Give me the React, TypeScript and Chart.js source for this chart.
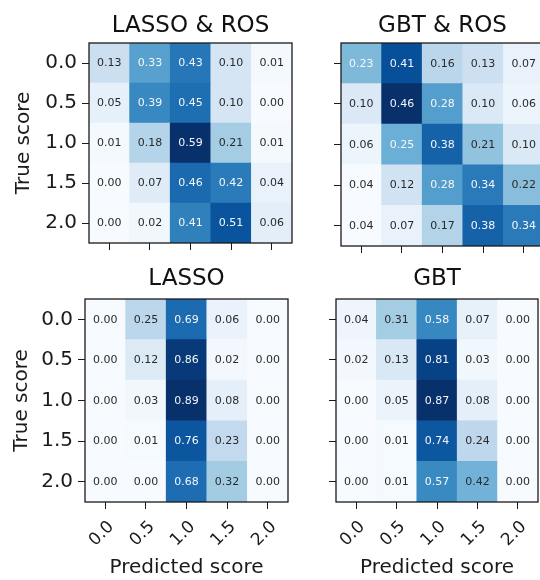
import React, { useEffect, useRef } from "react";
import { Chart, registerables } from "chart.js";
Chart.register(...registerables);

const predictedLabels = ["0.0", "0.5", "1.0", "1.5", "2.0"];
const trueLabels = ["0.0", "0.5", "1.0", "1.5", "2.0"];

const lassoRos = [
  [0.13, 0.33, 0.43, 0.1, 0.01],
  [0.05, 0.39, 0.45, 0.1, 0.0],
  [0.01, 0.18, 0.59, 0.21, 0.01],
  [0.0, 0.07, 0.46, 0.42, 0.04],
  [0.0, 0.02, 0.41, 0.51, 0.06],
];
const gbtRos = [
  [0.23, 0.41, 0.16, 0.13, 0.07],
  [0.1, 0.46, 0.28, 0.1, 0.06],
  [0.06, 0.25, 0.38, 0.21, 0.1],
  [0.04, 0.12, 0.28, 0.34, 0.22],
  [0.04, 0.07, 0.17, 0.38, 0.34],
];
const lasso = [
  [0.0, 0.25, 0.69, 0.06, 0.0],
  [0.0, 0.12, 0.86, 0.02, 0.0],
  [0.0, 0.03, 0.89, 0.08, 0.0],
  [0.0, 0.01, 0.76, 0.23, 0.0],
  [0.0, 0.0, 0.68, 0.32, 0.0],
];
const gbt = [
  [0.04, 0.31, 0.58, 0.07, 0.0],
  [0.02, 0.13, 0.81, 0.03, 0.0],
  [0.0, 0.05, 0.87, 0.08, 0.0],
  [0.0, 0.01, 0.74, 0.24, 0.0],
  [0.0, 0.01, 0.57, 0.42, 0.0],
];

const BLUES = ["#f7fbff", "#deebf7", "#c6dbef", "#9ecae1", "#6baed6", "#4292c6", "#2171b5", "#08519c", "#08306b"];
const FONT = "DejaVu Sans";

function hexToRgb(h: string) {
  return [parseInt(h.slice(1, 3), 16), parseInt(h.slice(3, 5), 16), parseInt(h.slice(5, 7), 16)];
}
function blues(t: number) {
  const tt = Math.max(0, Math.min(1, t)) * (BLUES.length - 1);
  const i = Math.min(BLUES.length - 2, Math.floor(tt));
  const f = tt - i;
  const a = hexToRgb(BLUES[i]);
  const b = hexToRgb(BLUES[i + 1]);
  const c = a.map((v, k) => Math.round(v + (b[k] - v) * f));
  return `rgb(${c[0]},${c[1]},${c[2]})`;
}

type PanelProps = {
  title: string;
  matrix: number[][];
  showX: boolean;
  showY: boolean;
  left: number;
  top: number;
  w: number;
  h: number;
  areaLeft: number;
  areaRight: number;
  areaTop: number;
  areaBottom: number;
  titleBaseline: number;
  yTitlePad: number;
};

function Panel(p: PanelProps) {
  const ref = useRef<HTMLCanvasElement | null>(null);
  useEffect(() => {
    if (!ref.current) return;
    const flat = p.matrix.flat();
    const max = Math.max(...flat);
    const min = Math.min(...flat);
    const rowsBottomFirst = trueLabels.map((_, i) => trueLabels.length - 1 - i);
    const datasets = rowsBottomFirst.map((r) => ({
      label: trueLabels[r],
      rowIndex: r,
      data: predictedLabels.map(() => 1),
      backgroundColor: p.matrix[r].map((v) => blues((v - min) / (max - min))),
      borderWidth: 0,
      barPercentage: 1,
      categoryPercentage: 1,
    }));
    const overlay = {
      id: "overlay",
      afterDatasetsDraw(chart: any) {
        const ctx = chart.ctx;
        ctx.save();
        ctx.font = `11px "${FONT}"`;
        ctx.textAlign = "center";
        ctx.textBaseline = "middle";
        chart.data.datasets.forEach((ds: any, di: number) => {
          const meta = chart.getDatasetMeta(di);
          meta.data.forEach((el: any, j: number) => {
            const v = p.matrix[ds.rowIndex][j];
            ctx.fillStyle = v >= max / 2 ? "#f4f6fa" : "#2a2a2a";
            ctx.fillText(v.toFixed(2), el.x, (el.y + el.base) / 2 + 0.5);
          });
        });
        const a = chart.chartArea;
        ctx.strokeStyle = "#1a1a1a";
        ctx.lineWidth = 1.3;
        ctx.strokeRect(a.left, a.top, a.right - a.left, a.bottom - a.top);
        ctx.fillStyle = "#111";
        ctx.font = `23px "${FONT}"`;
        ctx.textBaseline = "alphabetic";
        ctx.fillText(p.title, (a.left + a.right) / 2, p.titleBaseline);
        ctx.restore();
      },
    };
    const chart = new Chart(ref.current, {
      type: "bar",
      data: { labels: predictedLabels, datasets },
      options: {
        animation: false,
        responsive: false,
        devicePixelRatio: 1,
        layout: { padding: { top: p.areaTop, right: p.w - p.areaRight, left: 0, bottom: 0 } },
        plugins: { legend: { display: false }, tooltip: { enabled: false }, title: { display: false } },
        scales: {
          x: {
            type: "category",
            stacked: true,
            offset: true,
            grid: { display: true, drawOnChartArea: false, drawTicks: true, tickLength: 7, tickWidth: 1, tickColor: "#1a1a1a", offset: false },
            border: { display: false },
            ticks: { display: p.showX, autoSkip: false, maxRotation: 45, minRotation: 45, labelOffset: 6, font: { family: FONT, size: 17 }, color: "#1a1a1a", padding: 8 },
            title: { display: p.showX, text: "Predicted score", font: { family: FONT, size: 20 }, color: "#1a1a1a", padding: { top: 0, bottom: 0 } },
            afterFit: (s: any) => {
              s.height = p.h - p.areaBottom;
            },
          },
          y: {
            type: "linear",
            stacked: true,
            min: 0,
            max: trueLabels.length,
            afterBuildTicks: (s: any) => {
              s.ticks = trueLabels.map((_, i) => ({ value: i + 0.5 }));
            },
            grid: { display: true, drawOnChartArea: false, drawTicks: true, tickLength: 7, tickWidth: 1, tickColor: "#1a1a1a" },
            border: { display: false },
            ticks: {
              display: p.showY,
              autoSkip: false,
              font: { family: FONT, size: 20 },
              color: "#1a1a1a",
              padding: 5,
              callback: (v: any) => trueLabels[trueLabels.length - 1 - Math.floor(Number(v))],
            },
            title: { display: p.showY, text: "True score", font: { family: FONT, size: 20 }, color: "#1a1a1a", padding: { top: p.yTitlePad, bottom: 0 } },
            afterFit: (s: any) => {
              s.width = p.areaLeft;
            },
          },
        },
      },
      plugins: [overlay],
    } as any);
    return () => chart.destroy();
  }, []);
  return <canvas ref={ref} width={p.w} height={p.h} style={{ position: "absolute", left: p.left, top: p.top }} />;
}

export default function App() {
  return (
    <div style={{ position: "absolute", left: 0, top: 0, width: 540, height: 580, overflow: "hidden", background: "#fff" }}>
      <Panel title="LASSO & ROS" matrix={lassoRos} showX={false} showY={true} left={0} top={0} w={300} h={260}
        areaLeft={89} areaRight={292} areaTop={43} areaBottom={246} titleBaseline={32} yTitlePad={12} />
      <Panel title="GBT & ROS" matrix={gbtRos} showX={false} showY={false} left={270} top={0} w={290} h={260}
        areaLeft={71} areaRight={274} areaTop={43} areaBottom={246} titleBaseline={32} yTitlePad={12} />
      <Panel title="LASSO" matrix={lasso} showX={true} showY={true} left={0} top={260} w={300} h={320}
        areaLeft={85} areaRight={288} areaTop={39} areaBottom={242} titleBaseline={25} yTitlePad={10} />
      <Panel title="GBT" matrix={gbt} showX={true} showY={false} left={270} top={260} w={290} h={320}
        areaLeft={66} areaRight={268} areaTop={39} areaBottom={242} titleBaseline={25} yTitlePad={10} />
    </div>
  );
}
